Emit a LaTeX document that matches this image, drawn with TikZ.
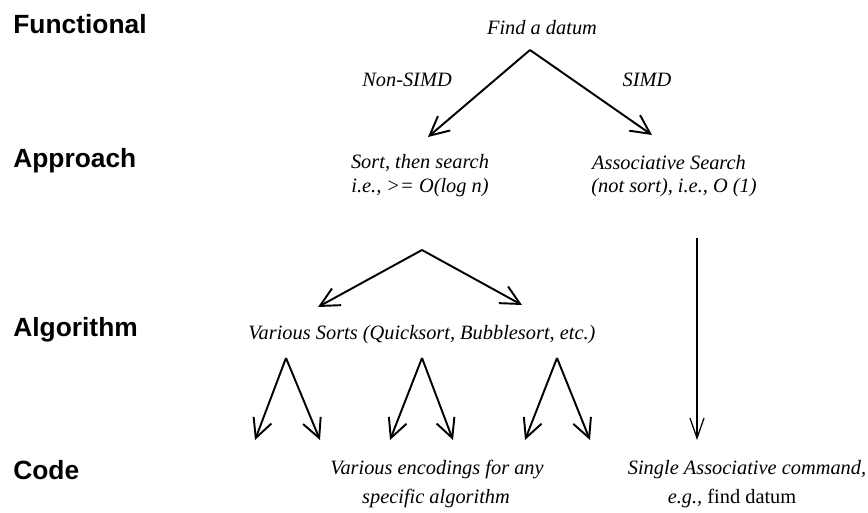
\documentclass[tikz,border=0pt]{standalone}
\usepackage{fontspec}
\setmainfont{Liberation Serif}
\setsansfont{Liberation Sans}
\usetikzlibrary{arrows.meta}

\begin{document}
\begin{tikzpicture}[x=0.02cm,y=-0.02cm,
    level/.style={anchor=west, inner sep=0pt, font=\sffamily\bfseries\fontsize{15}{18}\selectfont},
    txt/.style={inner sep=0pt, font=\itshape\fontsize{11.6}{13}\selectfont},
    branch/.style={line width=1.1pt, -{Straight Barb[length=3.8mm,width=3.8mm]}},
    lookup/.style={line width=0.7pt, -{Straight Barb[length=4mm,width=2.8mm]}}]
    \useasboundingbox (0,0) rectangle (868,513);

    % Levels
    \node[level] (functional) at (13,24) {Functional};
    \node[level] (approach) at (13,161) {Approach};
    \node[level] (algorithm) at (13,330) {Algorithm};
    \node[level] (code) at (13,470) {Code};

    % Nodes
    \node[txt] (find) at (542,28) {Find a datum};
    \node[txt] (nonsimd) at (407,80) {Non-SIMD};
    \node[txt] (simd) at (647,80) {SIMD};
    \node[txt] (sort) at (420,163) {Sort, then search};
    \node[txt] (sortorder) at (420,188) {i.e., >= O(log n)};
    \node[txt] (assoc) at (669,163) {Associative Search};
    \node[txt] (assocorder) at (674,188) {(not sort), i.e., O (1)};
    \node[txt] (sorts) at (422,335) {Various Sorts (Quicksort, Bubblesort, etc.)};
    \node[txt] (enc) at (437,470) {Various encodings for any};
    \node[txt] (encalg) at (436,498) {specific algorithm};
    \node[txt] (single) at (747,470) {Single Associative command,};
    \node[txt] (eg) at (732,498) {e.g., \upshape find datum};

    % Branch points
    \coordinate (findfoot) at (530,50);
    \coordinate (sorttip) at (428,137);
    \coordinate (assoctip) at (652,135);
    \coordinate (sortfoot) at (422,250);
    \coordinate (sortsL) at (318,307);
    \coordinate (sortsR) at (522,305);
    \coordinate (assocfoot) at (697,238);
    \coordinate (singletip) at (697,440);

    % Edges
    \draw[branch] (findfoot) -- (sorttip);
    \draw[branch] (findfoot) -- (assoctip);
    \draw[branch] (sortfoot) -- (sortsL);
    \draw[branch] (sortfoot) -- (sortsR);
    \draw[lookup] (assocfoot) -- (singletip);
    \foreach \i/\x/\l/\r in {1/286/255/320, 2/422/390/453, 3/557/525/590} {
        \coordinate (apex\i) at (\x,358);
        \coordinate (encL\i) at (\l,440);
        \coordinate (encR\i) at (\r,440);
        \draw[branch] (apex\i) -- (encL\i);
        \draw[branch] (apex\i) -- (encR\i);
    }
\end{tikzpicture}
\end{document}
